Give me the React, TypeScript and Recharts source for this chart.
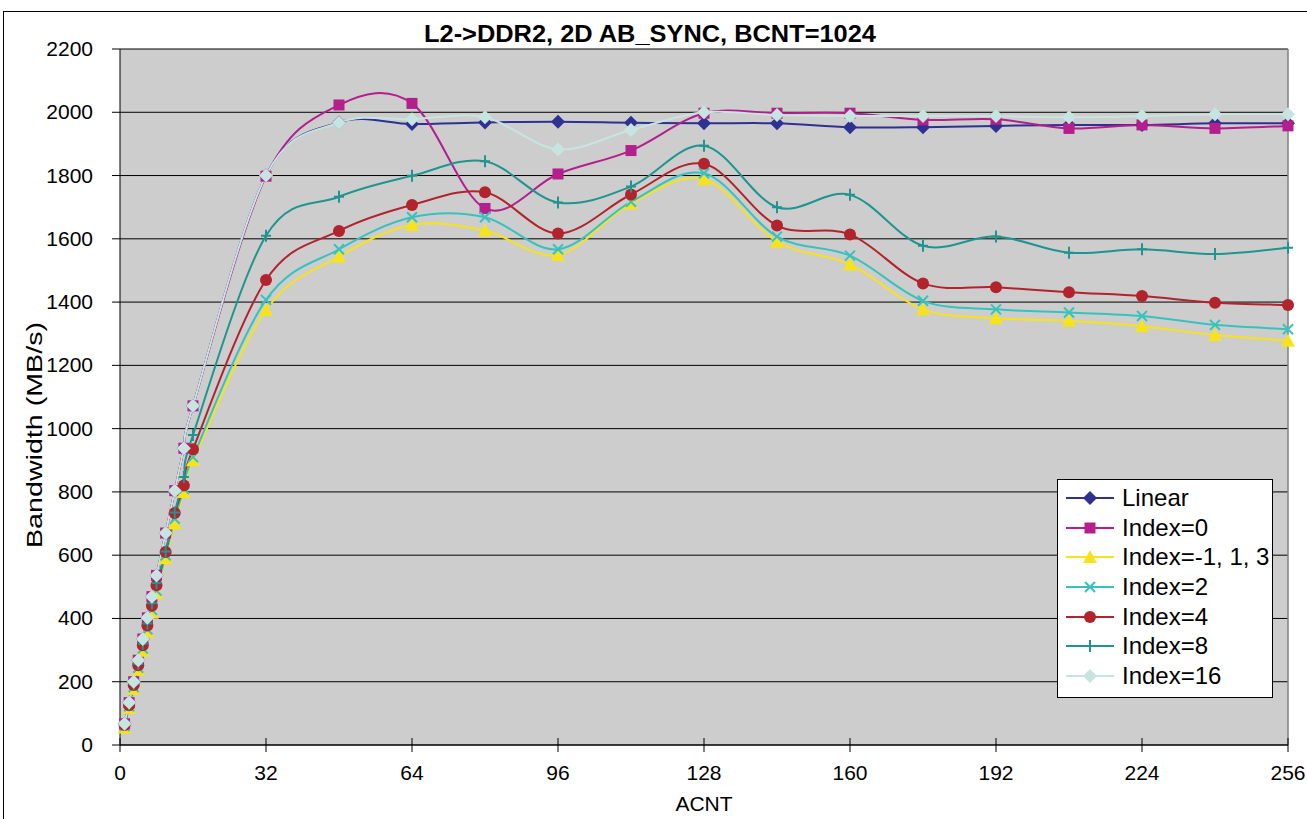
import React from 'react'
import { LineChart, Line, XAxis, YAxis, CartesianGrid, Legend, ReferenceLine } from 'recharts'

// ACNT sample points
const acnt = [1, 2, 3, 4, 5, 6, 7, 8, 10, 12, 14, 16, 32, 48, 64, 80, 96, 112, 128, 144, 160, 176, 192, 208, 224, 240, 256]

const linear = [67, 134, 200, 268, 335, 402, 469, 536, 670, 804, 938, 1072, 1800, 1968, 1963, 1968, 1970, 1967, 1965, 1965, 1953, 1953, 1957, 1960, 1960, 1965, 1965]
const index0 = [67, 134, 200, 268, 335, 402, 469, 536, 670, 804, 938, 1072, 1798, 2023, 2028, 1696, 1805, 1879, 1997, 1997, 1997, 1976, 1978, 1949, 1960, 1949, 1957]
const indexOdd = [55, 118, 178, 238, 298, 358, 418, 480, 590, 700, 800, 900, 1375, 1544, 1644, 1626, 1549, 1712, 1788, 1591, 1519, 1377, 1349, 1341, 1324, 1296, 1278]
const index2 = [60, 122, 183, 244, 305, 366, 427, 488, 600, 715, 810, 910, 1407, 1567, 1668, 1668, 1567, 1717, 1807, 1607, 1547, 1404, 1377, 1367, 1356, 1328, 1314]
const index4 = [63, 126, 190, 252, 315, 378, 440, 505, 610, 733, 820, 935, 1470, 1625, 1707, 1747, 1617, 1740, 1837, 1642, 1614, 1459, 1447, 1431, 1419, 1398, 1391]
const index8 = [64, 128, 192, 256, 320, 384, 448, 512, 612, 735, 847, 980, 1610, 1733, 1799, 1845, 1715, 1765, 1894, 1700, 1739, 1578, 1607, 1556, 1567, 1552, 1572]
const index16 = [67, 134, 200, 268, 335, 402, 469, 536, 670, 804, 938, 1072, 1800, 1967, 1978, 1984, 1883, 1944, 2000, 1991, 1988, 1988, 1988, 1984, 1988, 1994, 1994]

const xTicks = [0, 32, 64, 96, 128, 160, 192, 224, 256]
const yTicks = [0, 200, 400, 600, 800, 1000, 1200, 1400, 1600, 1800, 2000, 2200]

const series = [
  { key: 'linear', name: 'Linear', values: linear, color: '#2E3192', shape: 'diamond' },
  { key: 'index0', name: 'Index=0', values: index0, color: '#B41F8D', shape: 'square' },
  { key: 'indexOdd', name: 'Index=-1, 1, 3', values: indexOdd, color: '#F7E31B', shape: 'triangle' },
  { key: 'index2', name: 'Index=2', values: index2, color: '#36C3BE', shape: 'cross' },
  { key: 'index4', name: 'Index=4', values: index4, color: '#B2232E', shape: 'circle' },
  { key: 'index8', name: 'Index=8', values: index8, color: '#1E958E', shape: 'plus' },
  { key: 'index16', name: 'Index=16', values: index16, color: '#C6E5E1', shape: 'diamond' },
]

const data = acnt.map((x, i) => {
  const row: any = { x }
  series.forEach(s => { row[s.key] = s.values[i] })
  return row
})

const FONT = "'Liberation Sans', Arial, sans-serif"

// Excel-like smoothing (Catmull-Rom through every point)
const excelCurve = (context: any) => {
  let pts: number[][] = []
  return {
    areaStart() {},
    areaEnd() {},
    lineStart() { pts = [] },
    point(x: number, y: number) { pts.push([+x, +y]) },
    lineEnd() {
      const n = pts.length
      if (!n) return
      context.moveTo(pts[0][0], pts[0][1])
      const t = 1 / 6
      for (let i = 0; i < n - 1; i++) {
        const p0 = pts[Math.max(i - 1, 0)]
        const p1 = pts[i]
        const p2 = pts[i + 1]
        const p3 = pts[Math.min(i + 2, n - 1)]
        context.bezierCurveTo(
          p1[0] + (p2[0] - p0[0]) * t, p1[1] + (p2[1] - p0[1]) * t,
          p2[0] - (p3[0] - p1[0]) * t, p2[1] - (p3[1] - p1[1]) * t,
          p2[0], p2[1]
        )
      }
    },
  }
}

function Marker({ cx, cy, shape, color }: { cx: number; cy: number; shape: string; color: string }) {
  if (cx == null || cy == null) return null
  switch (shape) {
    case 'diamond':
      return <path d={`M${cx},${cy - 7}L${cx + 7},${cy}L${cx},${cy + 7}L${cx - 7},${cy}Z`} fill={color} />
    case 'square':
      return <rect x={cx - 5.5} y={cy - 5.5} width={11} height={11} fill={color} />
    case 'triangle':
      return <path d={`M${cx},${cy - 7}L${cx + 7},${cy + 6}L${cx - 7},${cy + 6}Z`} fill={color} />
    case 'circle':
      return <circle cx={cx} cy={cy} r={6} fill={color} />
    case 'cross':
      return <path d={`M${cx - 5},${cy - 5}L${cx + 5},${cy + 5}M${cx - 5},${cy + 5}L${cx + 5},${cy - 5}`} stroke={color} strokeWidth={2} fill="none" />
    case 'plus':
      return <path d={`M${cx},${cy - 6}L${cx},${cy + 6}M${cx - 5},${cy}L${cx + 5},${cy}`} stroke={color} strokeWidth={2} fill="none" />
  }
  return null
}

const XTick = ({ x, y, payload }: any) => (
  <g>
    <line x1={x} x2={x} y1={y - 7} y2={y + 7} stroke="#000" />
    <text x={x} y={y + 35} textAnchor="middle" fontSize={21} fontFamily={FONT} fill="#000">{payload.value}</text>
  </g>
)

const YTick = ({ x, y, payload }: any) => (
  <g>
    <line x1={x - 8} x2={x} y1={y} y2={y} stroke="#000" />
    <text x={x - 27} y={y + 7} textAnchor="end" fontSize={21} fontFamily={FONT} fill="#000">{payload.value}</text>
  </g>
)

const renderLegend = () => (
  <div style={{ width: 214, height: 214, border: '1px solid #000', background: '#fff', fontFamily: FONT, fontSize: 24, paddingTop: 3, boxSizing: 'content-box' }}>
    {series.map(s => (
      <div key={s.key} style={{ display: 'flex', alignItems: 'center', height: 29.7 }}>
        <svg width={64} height={24} style={{ flexShrink: 0 }}>
          <line x1={8} x2={56} y1={12} y2={12} stroke={s.color} strokeWidth={2} />
          <Marker cx={32} cy={12} shape={s.shape} color={s.color} />
        </svg>
        <span style={{ lineHeight: 1 }}>{s.name}</span>
      </div>
    ))}
  </div>
)

export default function App() {
  return (
    <div style={{ position: 'absolute', left: 0, top: 0, width: 1307, height: 819, overflow: 'hidden', background: '#fff' }}>
      <div style={{ position: 'absolute', left: 3, top: 11, width: 1400, height: 900, border: '1px solid #000' }} />
      <div style={{ position: 'absolute', left: 0, top: 0 }}>
        <LineChart width={1307} height={819} data={data} margin={{ top: 49, right: 19, bottom: 44, left: 60 }}>
          <CartesianGrid vertical={false} stroke="#000" fill="#CDCDCD" horizontalValues={yTicks} />
          <XAxis
            dataKey="x"
            type="number"
            domain={[0, 256]}
            ticks={xTicks}
            height={30}
            tickSize={0}
            tickMargin={0}
            tickLine={false}
            tick={<XTick />}
            axisLine={{ stroke: '#000' }}
            interval={0}
          />
          <YAxis
            type="number"
            domain={[0, 2200]}
            ticks={yTicks}
            width={60}
            tickSize={0}
            tickMargin={0}
            tickLine={false}
            tick={<YTick />}
            axisLine={{ stroke: '#000' }}
            interval={0}
          />
          <ReferenceLine x={256} stroke="#808080" strokeWidth={1.5} />
          {series.map(s => (
            <Line
              key={s.key}
              dataKey={s.key}
              name={s.name}
              type={excelCurve as any}
              stroke={s.color}
              strokeWidth={2}
              isAnimationActive={false}
              dot={(p: any) => <Marker key={`${s.key}-${p.index}`} cx={p.cx} cy={p.cy} shape={s.shape} color={s.color} />}
              activeDot={false}
            />
          ))}
          <Legend
            layout="horizontal"
            verticalAlign="middle"
            align="center"
            content={renderLegend}
            wrapperStyle={{ position: 'absolute', left: 1057, top: 479, width: 216, height: 218 }}
          />
          <text x={650} y={42} textAnchor="middle" fontSize={23} fontWeight="bold" fontFamily={FONT} fill="#000"
            textLength={452} lengthAdjust="spacingAndGlyphs">
            L2-&gt;DDR2, 2D AB_SYNC, BCNT=1024
          </text>
          <text x={704} y={811} textAnchor="middle" fontSize={21} fontFamily={FONT} fill="#000">ACNT</text>
          <text x={0} y={0} transform="translate(42,435) rotate(-90)" textAnchor="middle" fontSize={22} fontFamily={FONT} fill="#000"
            textLength={226} lengthAdjust="spacingAndGlyphs">
            Bandwidth (MB/s)
          </text>
        </LineChart>
      </div>
    </div>
  )
}
